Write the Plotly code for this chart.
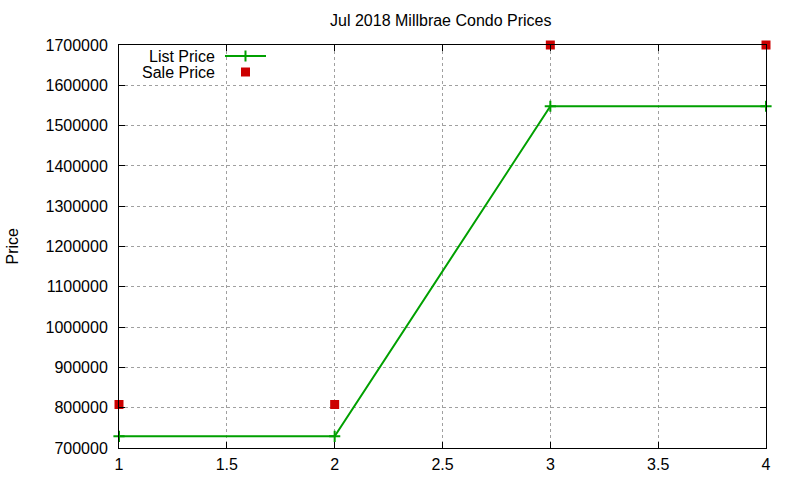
import plotly.graph_objects as go

# data
listing = [1, 2, 3, 4]
list_price = [729000, 729000, 1548000, 1548000]
sale_price = [808000, 808000, 1700000, 1700000]

x_ticks = [1, 1.5, 2, 2.5, 3, 3.5, 4]
y_ticks = list(range(700000, 1700001, 100000))

green = '#00a000'
red = '#cc0000'
font = dict(family='Liberation Sans, Arial, sans-serif', size=16, color='black')

fig = go.Figure()

fig.add_trace(go.Scatter(
    x=listing, y=list_price, mode='lines+markers', name='List Price',
    line=dict(color=green, width=2),
    marker=dict(symbol='cross-thin', size=8, line=dict(color=green, width=2)),
    cliponaxis=False,
))
fig.add_trace(go.Scatter(
    x=listing, y=sale_price, mode='markers', name='Sale Price',
    marker=dict(symbol='square', size=9, color=red),
    cliponaxis=False,
))

# gnuplot-style key: text on the left, sample on the right (overlay axes 0..1)
key_y = [0.9727, 0.933]
fig.add_trace(go.Scatter(
    x=[0.1638, 0.2272], y=[key_y[0], key_y[0]], mode='lines', xaxis='x2', yaxis='y2',
    line=dict(color=green, width=2), hoverinfo='skip', cliponaxis=False,
))
fig.add_trace(go.Scatter(
    x=[0.1955], y=[key_y[0]], mode='markers', xaxis='x2', yaxis='y2',
    marker=dict(symbol='cross-thin', size=8, line=dict(color=green, width=2)),
    hoverinfo='skip', cliponaxis=False,
))
fig.add_trace(go.Scatter(
    x=[0.1955], y=[key_y[1]], mode='markers', xaxis='x2', yaxis='y2',
    marker=dict(symbol='square', size=9, color=red),
    hoverinfo='skip', cliponaxis=False,
))

axis_common = dict(
    showline=True, linecolor='black', linewidth=1, mirror='ticks',
    ticks='inside', ticklen=6, tickcolor='black', tickwidth=1,
    showgrid=True, gridcolor='#a0a0a0', griddash='dot', gridwidth=1,
    zeroline=False, tickfont=font, automargin=False,
)

fig.update_layout(
    width=800,
    height=480,
    paper_bgcolor='white',
    plot_bgcolor='white',
    showlegend=False,
    margin=dict(l=119, r=34, t=45, b=32),
    font=font,
    title=dict(text='Jul 2018 Millbrae Condo Prices', x=0.551, xanchor='center',
               y=1 - 20 / 480, yanchor='middle', yref='container', font=font),
    xaxis=dict(range=[1, 4], tickvals=x_ticks, ticktext=[f'{v:g}' for v in x_ticks],
               ticklabelstandoff=2, **axis_common),
    yaxis=dict(range=[700000, 1700000], tickvals=y_ticks, ticktext=[str(v) for v in y_ticks],
               ticklabelstandoff=7, **axis_common),
    xaxis2=dict(range=[0, 1], overlaying='x', visible=False),
    yaxis2=dict(range=[0, 1], overlaying='y', visible=False),
    annotations=[
        dict(text='List Price', x=0.1515, y=key_y[0], xref='x2', yref='y2',
             xanchor='right', yanchor='middle', showarrow=False, font=font),
        dict(text='Sale Price', x=0.1515, y=key_y[1], xref='x2', yref='y2',
             xanchor='right', yanchor='middle', showarrow=False, font=font),
        dict(text='Price', x=(12 - 119) / 647, y=0.5, xref='paper', yref='paper',
             xanchor='center', yanchor='middle', textangle=-90, showarrow=False, font=font),
    ],
)

# drop the browser's default body margin so the 800x480 figure fills the window
fig.write_html('out.html', config={'displayModeBar': False},
               post_script="document.body.style.margin='0';")
